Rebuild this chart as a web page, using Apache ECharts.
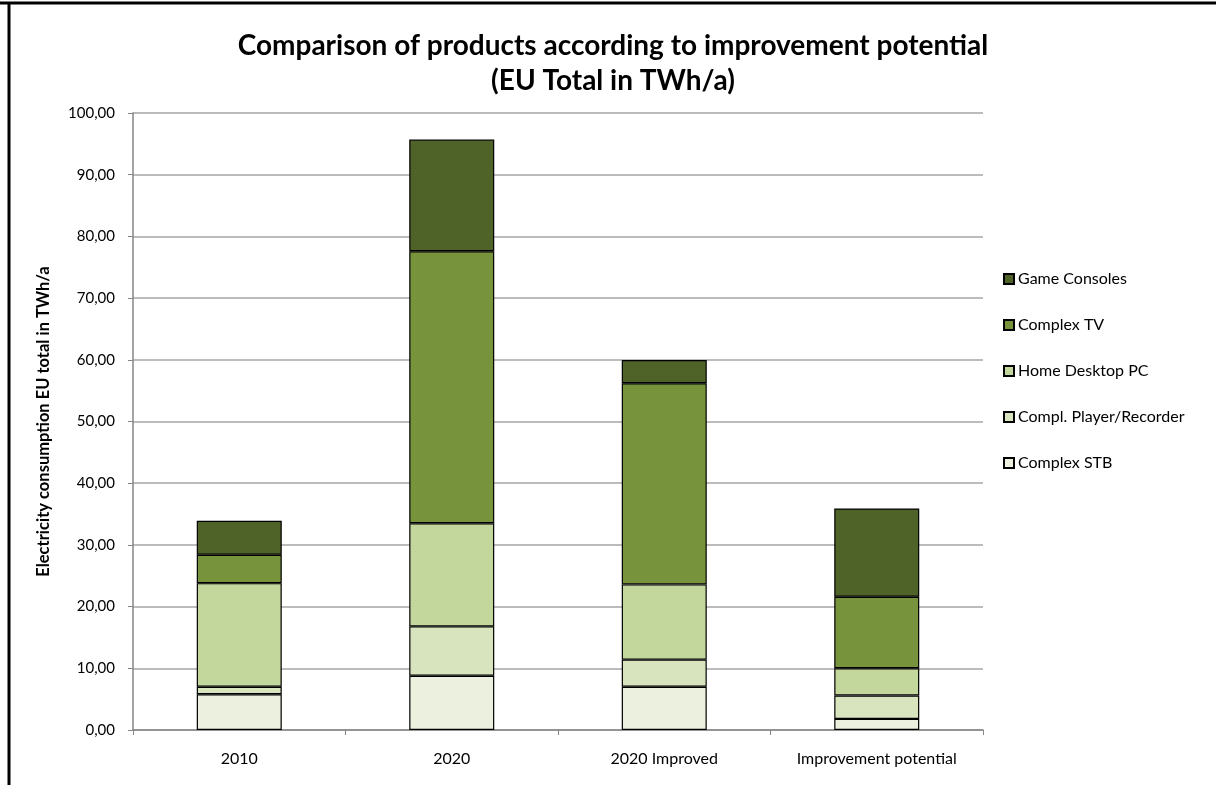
<!DOCTYPE html>
<html><head><meta charset="utf-8">
<script src="https://cdn.jsdelivr.net/npm/echarts@6/dist/echarts.min.js"></script>
<style>html,body{margin:0;padding:0;background:#fff}#c{width:1216px;height:785px}</style>
</head><body><div id="c"></div>
<script>
const categories = ['2010', '2020', '2020 Improved', 'Improvement potential'];
const complexSTB = [5.8, 8.8, 7.0, 1.8];
const playerRecorder = [1.2, 8.0, 4.4, 3.8];
const desktopPC = [16.8, 16.7, 12.2, 4.4];
const complexTV = [4.6, 44.1, 32.6, 11.6];
const gameConsoles = [5.5, 18.1, 3.75, 14.3];
const yTicks = [0, 10, 20, 30, 40, 50, 60, 70, 80, 90, 100];

const FONT = 'Lato, "Open Sans", sans-serif';
const seriesDefs = [
  { name: 'Complex STB', data: complexSTB, color: '#EBF1DE' },
  { name: 'Compl. Player/Recorder', data: playerRecorder, color: '#D7E4BD' },
  { name: 'Home Desktop PC', data: desktopPC, color: '#C3D69B' },
  { name: 'Complex TV', data: complexTV, color: '#77933C' },
  { name: 'Game Consoles', data: gameConsoles, color: '#4F6228' }
];
const chart = echarts.init(document.getElementById('c'));
chart.setOption({
  animation: false,
  textStyle: { fontFamily: FONT },
  title: {
    text: 'Comparison of products according to improvement potential\n(EU Total in TWh/a)',
    left: 608, top: 23, textAlign: 'center',
    textStyle: { fontFamily: FONT, fontSize: 28, fontWeight: 'bold', color: '#000', lineHeight: 35 }
  },
  legend: {
    orient: 'vertical', left: 998, top: 266,
    itemWidth: 10, itemHeight: 10, itemGap: 30,
    data: ['Game Consoles', 'Complex TV', 'Home Desktop PC', 'Compl. Player/Recorder', 'Complex STB'],
    textStyle: { fontFamily: FONT, fontSize: 16, color: '#000', padding: [0, 0, 0, -1] },
    icon: 'rect'
  },
  grid: { left: 133, right: 1216 - 983, top: 113, bottom: 785 - 730, containLabel: false },
  xAxis: {
    type: 'category', data: categories,
    axisLine: { lineStyle: { color: '#868686', width: 1.5 } },
    axisTick: { show: true, length: 5, lineStyle: { color: '#868686' } },
    axisLabel: { color: '#000', fontSize: 16, margin: 21, fontFamily: FONT }
  },
  yAxis: {
    type: 'value', min: 0, max: 100, interval: 10,
    name: 'Electricity consumption EU total in TWh/a',
    nameLocation: 'middle', nameGap: 81, nameRotate: 90,
    nameTextStyle: { fontFamily: FONT, fontSize: 16.5, fontWeight: 'bold', color: '#000' },
    axisLine: { show: true, lineStyle: { color: '#868686', width: 1.5 } },
    axisTick: { show: true, length: 5, lineStyle: { color: '#868686' } },
    splitLine: { lineStyle: { color: '#A6A6A6', width: 1.5 } },
    axisLabel: { color: '#000', fontSize: 15, margin: 18, fontFamily: FONT,
      formatter: v => yTicks.includes(v) ? v.toFixed(2).replace('.', ',') : '' }
  },
  series: seriesDefs.map(s => ({
    name: s.name, type: 'bar', stack: 'total', data: s.data, barWidth: '40%',
    itemStyle: { color: s.color, borderColor: '#000', borderWidth: 1.2 }
  })),
  graphic: [
    { type: 'line', shape: { x1: 0, y1: 3, x2: 1216, y2: 3 }, style: { stroke: '#000', lineWidth: 3 } },
    { type: 'line', shape: { x1: 9, y1: 3, x2: 9, y2: 785 }, style: { stroke: '#000', lineWidth: 3 } }
  ]
});
</script></body></html>
